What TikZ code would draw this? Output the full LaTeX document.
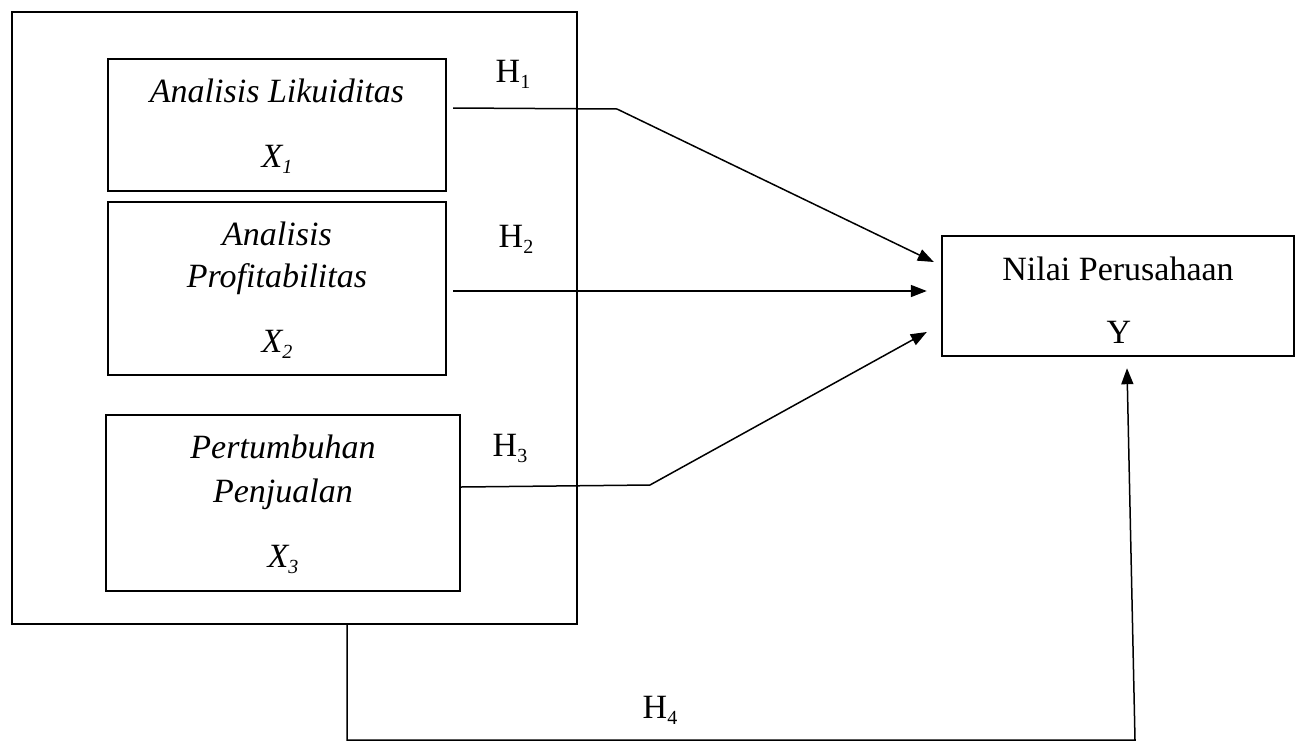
\documentclass[tikz,border=0pt]{standalone}
\usepackage{fontspec}
\setmainfont{Liberation Serif}
\usetikzlibrary{arrows.meta}
\newcommand{\mysub}[1]{\raisebox{-0.18em}{\fontsize{20}{20}\selectfont #1}}
\begin{document}
\begin{tikzpicture}[x=1pt,y=-1pt,
  box/.style={draw, line width=2.4pt, inner sep=0pt},
  lbl/.style={anchor=base, inner sep=0pt, font=\fontsize{34}{40}\selectfont},
  ilbl/.style={lbl, font=\fontsize{34}{40}\selectfont\itshape},
  conn/.style={line width=1.5pt},
  arr/.style={conn, -{Triangle[length=16pt,width=12pt]}}]
\useasboundingbox (0,0) rectangle (1297,744);
% boxes
\node[box, minimum width=565pt, minimum height=612pt] (outer) at (294.5,318) {};
\node[box, minimum width=338pt, minimum height=132pt] (b1) at (277,125) {};
\node[box, minimum width=338pt, minimum height=173pt] (b2) at (277,288.5) {};
\node[box, minimum width=354pt, minimum height=176pt] (b3) at (283,503) {};
\node[box, minimum width=352pt, minimum height=120pt] (ry) at (1118,296) {};
% texts
\node[ilbl] (t1a) at (277,102) {Analisis Likuiditas};
\node[ilbl] (t1b) at (277,167) {X\mysub{1}};
\node[ilbl] (t2a) at (277,245) {Analisis};
\node[ilbl] (t2b) at (277,287) {Profitabilitas};
\node[ilbl] (t2c) at (277,352) {X\mysub{2}};
\node[ilbl] (t3a) at (283,458) {Pertumbuhan};
\node[ilbl] (t3b) at (283,502) {Penjualan};
\node[ilbl] (t3c) at (283,567) {X\mysub{3}};
\node[lbl] (ty1) at (1118,280) {Nilai Perusahaan};
\node[lbl] (ty2) at (1119,343) {Y};
\node[lbl] (h1) at (513,82) {H\mysub{1}};
\node[lbl] (h2) at (516,247) {H\mysub{2}};
\node[lbl] (h3) at (510,456) {H\mysub{3}};
\node[lbl] (h4) at (660,718) {H\mysub{4}};
% bend points
\coordinate (h1b) at (617,109);
\coordinate (h3b) at (650,485);
\coordinate (h4a) at (347,740);
\coordinate (h4b) at (1135,740);
% connectors
\draw[arr] ([shift={(6,-17)}]b1.east) -- (h1b) -- ([shift={(-7,-34)}]ry.west);
\draw[arr] ([shift={(6,2.5)}]b2.east) -- ([shift={(-14,-5)}]ry.west);
\draw[arr] ([shift={(0,-16)}]b3.east) -- (h3b) -- ([shift={(-14,36)}]ry.west);
\draw[arr] ([xshift=52.5pt]outer.south) -- (h4a) -- (h4b) -- ([shift={(9,11)}]ry.south);
\end{tikzpicture}
\end{document}
